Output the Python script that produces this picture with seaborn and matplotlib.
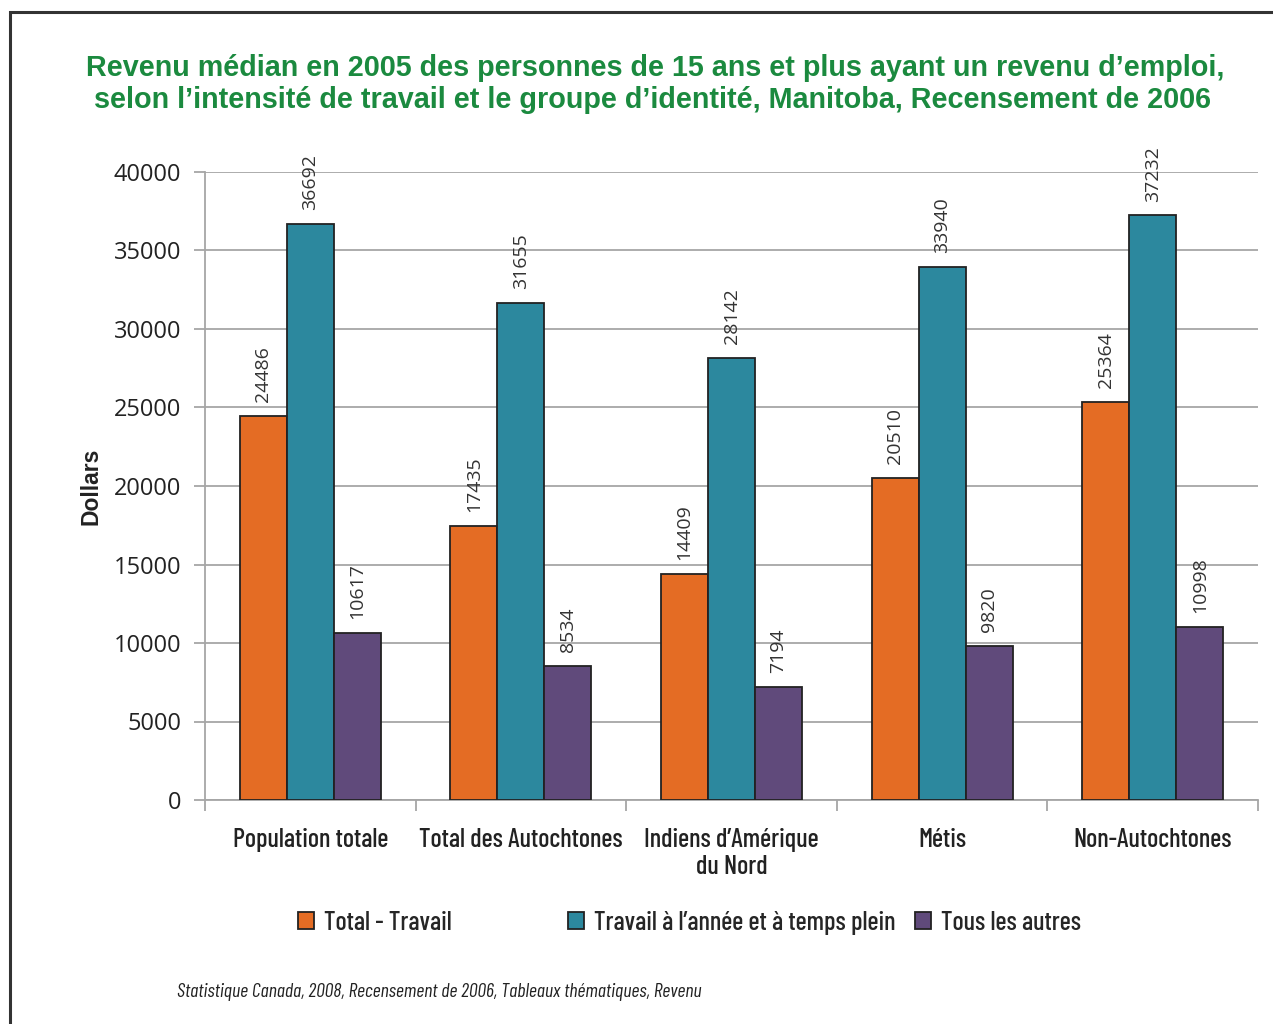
import matplotlib
matplotlib.use("Agg")
import matplotlib.pyplot as plt
import matplotlib.patches as mpatches
import seaborn as sns
import pandas as pd

categories = ["Population totale", "Total des Autochtones", "Indiens d\u2019Am\u00e9rique\ndu Nord", "M\u00e9tis", "Non-Autochtones"]
series_names = ["Total - Travail", "Travail \u00e0 l\u2019ann\u00e9e et \u00e0 temps plein", "Tous les autres"]
total_travail = [24486, 17435, 14409, 20510, 25364]
temps_plein = [36692, 31655, 28142, 33940, 37232]
tous_autres = [10617, 8534, 7194, 9820, 10998]
colors = ["#E46C24", "#2C889E", "#604A7B"]
y_ticks = [0, 5000, 10000, 15000, 20000, 25000, 30000, 35000, 40000]

narrow = ["Barlow Condensed", "DejaVu Sans"]

rows = []
for s, vals in zip(series_names, [total_travail, temps_plein, tous_autres]):
    for c, v in zip(categories, vals):
        rows.append({"cat": c, "serie": s, "val": v})
df = pd.DataFrame(rows)

sns.set_theme(style="white")
plt.rcParams["font.family"] = ["Open Sans", "DejaVu Sans"]

fig = plt.figure(figsize=(12.73, 10.24), dpi=100)
ax = fig.add_axes([205/1273, 1-800/1024, (1258-205)/1273, (800-172)/1024])

sns.barplot(data=df, x="cat", y="val", hue="serie", order=categories, hue_order=series_names,
            palette=colors, width=0.67, edgecolor="#222222", linewidth=1.3, saturation=1,
            legend=False, ax=ax, zorder=3)

for cont in ax.containers:
    ax.bar_label(cont, labels=[f"{int(v)}" for v in cont.datavalues], padding=10, rotation=90,
                 fontsize=14, color="#333333")

ax.set_xlim(-0.5, 4.5)
ax.set_ylim(0, 40000)
ax.set_yticks(y_ticks)
ax.set_yticklabels([str(t) for t in y_ticks], fontsize=17, color="#222222")
ax.yaxis.grid(True, color="#a6a6a6", linewidth=1.3, zorder=0)
ax.set_axisbelow(True)
ax.tick_params(axis="y", length=8, width=1.3, color="#a6a6a6", pad=9, left=True)
ax.set_xticks(range(5))
ax.set_xticklabels(categories, fontsize=19, family=narrow, fontweight="medium", color="#222222",
                   linespacing=1.15)
ax.set_xticks([-0.5, 0.5, 1.5, 2.5, 3.5, 4.5], minor=True)
ax.tick_params(axis="x", which="major", length=0, pad=20)
ax.tick_params(axis="x", which="minor", length=8, width=1.3, color="#a6a6a6", bottom=True)
for side in ["top", "right"]:
    ax.spines[side].set_visible(False)
for side in ["left", "bottom"]:
    ax.spines[side].set_color("#a6a6a6")
    ax.spines[side].set_linewidth(1.3)
ax.set_xlabel("")
ax.set_ylabel("Dollars", fontsize=16.5, fontweight="bold", family=["Liberation Sans", "DejaVu Sans"],
              color="#222222", labelpad=8)

fig.text(655/1273, 1-68/1024, "Revenu m\u00e9dian en 2005 des personnes de 15 ans et plus ayant un revenu d\u2019emploi,",
         ha="center", va="center", fontsize=20.7, fontweight="bold", color="#1B8A3F",
         family=["Liberation Sans", "DejaVu Sans"])
fig.text(653/1273, 1-100/1024, "selon l\u2019intensit\u00e9 de travail et le groupe d\u2019identit\u00e9, Manitoba, Recensement de 2006",
         ha="center", va="center", fontsize=20.7, fontweight="bold", color="#1B8A3F",
         family=["Liberation Sans", "DejaVu Sans"])

legend_x = [298/1273, 568/1273, 915/1273]
for name, col, lx in zip(series_names, colors, legend_x):
    h = mpatches.Patch(facecolor=col, edgecolor="#222222", linewidth=1.3)
    fig.legend(handles=[h], labels=[name], loc="center left", bbox_to_anchor=(lx, 1-923/1024),
               frameon=False, handlelength=0.6, handleheight=0.6, handletextpad=0.4,
               borderpad=0, borderaxespad=0,
               prop={"family": narrow, "size": 19, "weight": "medium"})

fig.text(177/1273, 1-992/1024, "Statistique Canada, 2008, Recensement de 2006, Tableaux th\u00e9matiques, Revenu",
         ha="left", va="center", fontsize=14.3, style="italic", color="#222222", family=narrow)

frame = mpatches.Rectangle((10/1273, -0.05), 1.2, 1.05 - 12/1024, transform=fig.transFigure,
                           fill=False, edgecolor="#333333", linewidth=2.2)
fig.add_artist(frame)

fig.savefig("out.png", dpi=100)
